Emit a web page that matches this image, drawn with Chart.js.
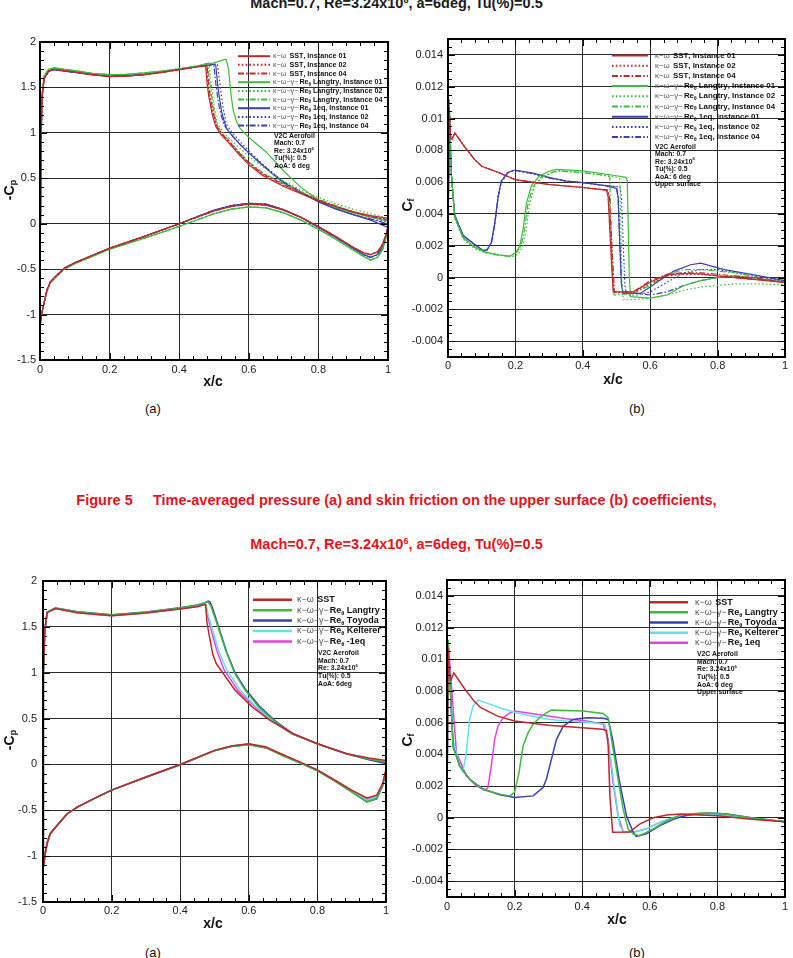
<!DOCTYPE html>
<html><head><meta charset="utf-8">
<script src="https://cdn.jsdelivr.net/npm/chart.js@4.4.1/dist/chart.umd.min.js"></script>
<style>
html,body{margin:0;padding:0;background:#fff;}
body{width:793px;height:958px;position:relative;overflow:hidden;font-family:"Liberation Sans",Arial,Helvetica,sans-serif;}
canvas{position:absolute;}
.t{position:absolute;left:0;width:793px;text-align:center;font-weight:bold;white-space:pre;}
.t sup{font-size:62%;vertical-align:0;position:relative;top:-0.55em;line-height:0;}
.lab{position:absolute;font-size:13px;color:#111;}
</style></head><body>
<div class="t" style="top:-5px;font-size:14.5px;color:#1a1a1a">Mach=0.7, Re=3.24x10<sup>6</sup>, a=6deg, Tu(%)=0.5</div>
<div class="lab" style="left:145px;top:401px">(a)</div>
<div class="lab" style="left:629px;top:401px">(b)</div>
<div class="t" style="top:492px;font-size:14.5px;color:#e3141b">Figure 5     Time-averaged pressure (a) and skin friction on the upper surface (b) coefficients,</div>
<div class="t" style="top:536px;font-size:14.5px;color:#e3141b">Mach=0.7, Re=3.24x10<sup>6</sup>, a=6deg, Tu(%)=0.5</div>
<div class="lab" style="left:145px;top:945px">(a)</div>
<div class="lab" style="left:629px;top:945px">(b)</div>
<canvas id="c1"></canvas><canvas id="c2"></canvas><canvas id="c3"></canvas><canvas id="c4"></canvas>
<script>
// ---------------- tick values / labels ----------------
const xTickVals=[0,0.2,0.4,0.6,0.8,1];
const xTickLabels=['0','0.2','0.4','0.6','0.8','1'];
const cpTickVals=[-1.5,-1,-0.5,0,0.5,1,1.5,2];
const cpTickLabels=['-1.5','-1','-0.5','0','0.5','1','1.5','2'];
const cfTickVals=[-0.004,-0.002,0,0.002,0.004,0.006,0.008,0.01,0.012,0.014];
const cfTickLabels=['-0.004','-0.002','0','0.002','0.004','0.006','0.008','0.01','0.012','0.014'];

// ---------------- legend labels ----------------
const labels5=['κ-ω SST, Instance 01','κ-ω SST, Instance 02','κ-ω SST, Instance 04',
 'κ-ω-γ-Re_θ Langtry, Instance 01','κ-ω-γ-Re_θ Langtry, Instance 02','κ-ω-γ-Re_θ Langtry, Instance 04',
 'κ-ω-γ-Re_θ 1eq, Instance 01','κ-ω-γ-Re_θ 1eq, Instance 02','κ-ω-γ-Re_θ 1eq, Instance 04'];
const labels6a=['κ-ω SST','κ-ω-γ-Re_θ Langtry','κ-ω-γ-Re_θ Toyoda','κ-ω-γ-Re_θ Kelterer','κ-ω-γ-Re_θ -1eq'];
const labels6b=['κ-ω SST','κ-ω-γ-Re_θ Langtry','κ-ω-γ-Re_θ Toyoda','κ-ω-γ-Re_θ Kelterer','κ-ω-γ-Re_θ 1eq'];
const annotA=['V2C Aerofoil','Mach: 0.7','Re: 3.24x10^6','Tu(%): 0.5','AoA: 6 deg'];
const annotB=['V2C Aerofoil','Mach: 0.7','Re: 3.24x10^6','Tu(%): 0.5','AoA: 6 deg','Upper surface'];
const annotC=['V2C Aerofoil','Mach: 0.7','Re: 3.24x10^6','Tu(%): 0.5','AoA: 6deg'];

// ---------------- Figure 5(a): -Cp ----------------
const cp5_lowerX=[0,0.003,0.006,0.01,0.02,0.03,0.045,0.07,0.1,0.15,0.2,0.3,0.4,0.5,0.55,0.6,0.65,0.7,0.75,0.8,0.85,0.9,0.93,0.95,0.97,0.985,0.995,1.0];
const cp5_lower_sst=[-1.12,-1.05,-0.97,-0.90,-0.73,-0.64,-0.58,-0.49,-0.43,-0.35,-0.27,-0.14,0.0,0.14,0.19,0.215,0.205,0.15,0.07,-0.03,-0.14,-0.26,-0.32,-0.34,-0.31,-0.22,-0.11,-0.03];
const cp5_lower_lan=[-1.12,-1.05,-0.97,-0.90,-0.74,-0.65,-0.59,-0.50,-0.44,-0.36,-0.28,-0.16,-0.03,0.11,0.16,0.185,0.175,0.12,0.04,-0.06,-0.17,-0.29,-0.36,-0.40,-0.37,-0.28,-0.15,-0.05];
const cp5_lower_eq=[-1.12,-1.05,-0.97,-0.90,-0.73,-0.64,-0.58,-0.49,-0.43,-0.35,-0.27,-0.14,0.0,0.15,0.20,0.225,0.215,0.155,0.07,-0.04,-0.15,-0.27,-0.34,-0.37,-0.34,-0.25,-0.13,-0.04];
const cp5_upX=[0,0.001,0.003,0.006,0.012,0.025,0.04,0.07,0.1,0.15,0.2,0.25,0.3,0.35,0.4,0.45];
const cp5_up_sst=[-1.12,-0.2,0.9,1.4,1.6,1.68,1.70,1.685,1.67,1.64,1.62,1.625,1.64,1.665,1.695,1.725];
const cp5_up_lan=[-1.12,-0.2,0.9,1.42,1.63,1.70,1.715,1.70,1.685,1.655,1.64,1.645,1.66,1.68,1.705,1.735];
const cp5_up_eq=[-1.12,-0.2,0.9,1.4,1.6,1.68,1.695,1.68,1.665,1.64,1.625,1.63,1.645,1.67,1.70,1.73];
const cp5_shX_sst01=[0.47,0.476,0.48,0.485,0.495,0.505,0.52,0.54,0.57,0.6,0.64,0.7,0.75,0.8,0.85,0.9,0.95,1.0];
const cp5_shY_sst01=[1.74,1.735,1.55,1.40,1.20,1.07,0.98,0.90,0.77,0.65,0.53,0.41,0.33,0.25,0.19,0.13,0.09,0.06];
const cp5_shX_sst02=[0.47,0.478,0.482,0.487,0.497,0.507,0.52,0.54,0.57,0.6,0.64,0.7,0.75,0.8,0.85,0.9,0.95,1.0];
const cp5_shY_sst02=[1.74,1.74,1.56,1.40,1.20,1.07,0.99,0.91,0.78,0.66,0.54,0.42,0.34,0.26,0.19,0.13,0.08,0.05];
const cp5_shX_sst04=[0.47,0.48,0.484,0.489,0.499,0.509,0.52,0.54,0.57,0.6,0.64,0.7,0.75,0.8,0.85,0.9,0.95,1.0];
const cp5_shY_sst04=[1.74,1.745,1.56,1.40,1.20,1.07,1.0,0.92,0.79,0.67,0.55,0.43,0.34,0.26,0.19,0.13,0.08,0.04];
const cp5_shX_lan01=[0.5,0.525,0.535,0.542,0.548,0.555,0.565,0.575,0.6,0.625,0.65,0.7,0.75,0.8,0.85,0.9,0.95,1.0];
const cp5_shY_lan01=[1.77,1.80,1.81,1.70,1.45,1.25,1.12,1.05,0.95,0.87,0.79,0.58,0.40,0.26,0.18,0.12,0.07,0.03];
const cp5_shX_lan02=[0.47,0.485,0.49,0.5,0.51,0.53,0.56,0.6,0.65,0.7,0.75,0.8,0.85,0.9,0.95,1.0];
const cp5_shY_lan02=[1.755,1.77,1.60,1.30,1.10,0.99,0.88,0.74,0.60,0.47,0.37,0.29,0.22,0.16,0.11,0.06];
const cp5_shX_lan04=[0.47,0.482,0.487,0.497,0.507,0.52,0.54,0.57,0.6,0.64,0.7,0.75,0.8,0.85,0.9,0.95,1.0];
const cp5_shY_lan04=[1.755,1.765,1.58,1.30,1.10,1.01,0.93,0.80,0.68,0.56,0.44,0.35,0.27,0.20,0.13,0.08,0.04];
const cp5_shX_eq01=[0.48,0.5,0.505,0.51,0.515,0.522,0.53,0.536,0.55,0.575,0.6,0.635,0.67,0.7,0.75,0.8,0.85,0.9,0.95,1.0];
const cp5_shY_eq01=[1.74,1.755,1.745,1.55,1.40,1.23,1.12,1.05,0.98,0.87,0.78,0.66,0.54,0.45,0.34,0.24,0.16,0.10,0.04,-0.04];
const cp5_shX_eq02=[0.48,0.505,0.51,0.515,0.525,0.535,0.55,0.6,0.65,0.7,0.75,0.8,0.85,0.9,0.95,1.0];
const cp5_shY_eq02=[1.74,1.76,1.75,1.6,1.3,1.1,1.01,0.80,0.62,0.46,0.35,0.25,0.17,0.10,0.05,0.02];
const cp5_shX_eq04=[0.48,0.495,0.5,0.505,0.512,0.52,0.53,0.545,0.57,0.6,0.63,0.67,0.7,0.75,0.8,0.85,0.9,0.95,1.0];
const cp5_shY_eq04=[1.74,1.75,1.74,1.55,1.35,1.20,1.08,1.0,0.89,0.78,0.68,0.55,0.46,0.35,0.25,0.17,0.10,0.05,0.0];

// ---------------- Figure 5(b): Cf ----------------
const cf5_x_sst01=[0,0.003,0.008,0.012,0.02,0.03,0.05,0.08,0.1,0.15,0.2,0.25,0.3,0.4,0.47,0.475,0.48,0.485,0.49,0.5,0.55,0.6,0.65,0.7,0.75,0.8,0.9,1.0];
const cf5_y_sst01=[0.0003,0.0107,0.0088,0.0087,0.0091,0.0088,0.0082,0.0074,0.0070,0.0066,0.00615,0.0060,0.00585,0.00566,0.0055,0.0051,0.0030,0.0010,-0.0009,-0.0009,-0.0009,-0.0003,0.00017,0.00025,0.00023,0.0001,-0.0001,-0.00033];
const cf5_x_sst02=[0,0.003,0.008,0.012,0.02,0.03,0.05,0.08,0.1,0.15,0.2,0.25,0.3,0.4,0.472,0.477,0.482,0.487,0.492,0.5,0.55,0.6,0.65,0.7,0.75,0.8,0.9,1.0];
const cf5_y_sst02=[0.0003,0.0107,0.0088,0.0087,0.0091,0.0088,0.0082,0.0074,0.0070,0.0066,0.00615,0.0060,0.00585,0.00566,0.0055,0.0051,0.0030,0.0010,-0.0009,-0.00095,-0.00095,-0.0004,0.0001,0.0002,0.0002,0.0001,-0.0001,-0.0003];
const cf5_x_sst04=[0,0.003,0.008,0.012,0.02,0.03,0.05,0.08,0.1,0.15,0.2,0.25,0.3,0.4,0.474,0.479,0.484,0.489,0.494,0.5,0.55,0.6,0.65,0.7,0.75,0.8,0.9,1.0];
const cf5_y_sst04=[0.0003,0.0107,0.0088,0.0087,0.0091,0.0088,0.0082,0.0074,0.0070,0.0066,0.00615,0.0060,0.00585,0.00566,0.0055,0.0051,0.0030,0.0010,-0.0009,-0.0009,-0.0009,-0.0002,0.0002,0.0003,0.0003,0.0002,0.0,-0.0003];
const cf5_x_lan01=[0,0.003,0.01,0.02,0.045,0.08,0.11,0.15,0.183,0.203,0.213,0.223,0.233,0.248,0.272,0.302,0.322,0.4,0.5,0.528,0.532,0.535,0.538,0.542,0.6,0.65,0.7,0.75,0.8,0.85,0.9,1.0];
const cf5_y_lan01=[0.0003,0.0112,0.0065,0.0038,0.0025,0.0019,0.0016,0.00142,0.00134,0.0016,0.0020,0.00305,0.0047,0.0058,0.0064,0.0067,0.0068,0.0067,0.0064,0.0063,0.0061,0.0030,0.0,-0.0012,-0.0013,-0.0011,-0.0005,-0.0002,0.0,0.0001,0.0,-0.0003];
const cf5_x_lan02=[0,0.003,0.01,0.02,0.045,0.08,0.11,0.15,0.19,0.21,0.222,0.232,0.242,0.256,0.28,0.31,0.33,0.4,0.5,0.51,0.513,0.516,0.52,0.55,0.6,0.65,0.7,0.75,0.8,0.85,0.9,1.0];
const cf5_y_lan02=[0.0003,0.0112,0.0064,0.0037,0.0024,0.0018,0.00155,0.0014,0.0013,0.0015,0.0020,0.0030,0.0046,0.0057,0.0063,0.0066,0.0067,0.0066,0.0063,0.0062,0.0030,0.0,-0.0014,-0.0014,-0.0013,-0.0011,-0.0008,-0.0006,-0.0005,-0.0004,-0.0004,-0.00045];
const cf5_x_lan04=[0,0.003,0.01,0.02,0.045,0.08,0.11,0.15,0.185,0.205,0.217,0.227,0.237,0.252,0.276,0.306,0.326,0.4,0.475,0.48,0.484,0.488,0.493,0.55,0.6,0.65,0.7,0.75,0.8,0.85,0.9,1.0];
const cf5_y_lan04=[0.0003,0.0112,0.0065,0.0038,0.0025,0.0019,0.0016,0.0014,0.00133,0.0016,0.0020,0.0030,0.0046,0.0057,0.0063,0.0066,0.0067,0.0066,0.0064,0.0063,0.0030,0.0,-0.0011,-0.0010,-0.0005,0.0002,0.0005,0.0005,0.0004,0.0003,0.0001,-0.0003];
const cf5_x_eq01=[0,0.003,0.01,0.02,0.045,0.084,0.104,0.115,0.129,0.139,0.149,0.158,0.178,0.198,0.252,0.302,0.351,0.401,0.46,0.5,0.505,0.51,0.515,0.52,0.55,0.57,0.6,0.62,0.67,0.72,0.75,0.82,0.9,1.0];
const cf5_y_eq01=[0.0003,0.0112,0.0065,0.0039,0.00264,0.0020,0.0017,0.0017,0.00222,0.00347,0.00513,0.00607,0.0066,0.00676,0.00656,0.00628,0.00607,0.00597,0.0058,0.0056,0.0050,0.0020,-0.0005,-0.0010,-0.0010,-0.0010,-0.0006,-0.0003,0.0004,0.0008,0.0009,0.0005,0.0002,-0.0002];
const cf5_x_eq02=[0,0.003,0.01,0.02,0.045,0.084,0.104,0.115,0.129,0.139,0.149,0.158,0.178,0.198,0.252,0.302,0.351,0.401,0.46,0.51,0.515,0.52,0.525,0.53,0.56,0.6,0.65,0.7,0.75,0.8,0.85,0.9,1.0];
const cf5_y_eq02=[0.0003,0.0112,0.0065,0.0039,0.00264,0.0020,0.0017,0.0017,0.0022,0.0034,0.0051,0.0060,0.0066,0.00672,0.00652,0.00625,0.00605,0.00595,0.0058,0.0057,0.0050,0.0020,-0.0005,-0.0011,-0.0011,-0.0009,-0.0003,0.0003,0.0005,0.0005,0.0003,0.0001,-0.0002];
const cf5_x_eq04=[0,0.003,0.01,0.02,0.045,0.084,0.104,0.115,0.129,0.139,0.149,0.158,0.178,0.198,0.252,0.302,0.351,0.401,0.46,0.5,0.505,0.51,0.515,0.52,0.56,0.6,0.65,0.7,0.75,0.8,0.85,0.9,1.0];
const cf5_y_eq04=[0.0003,0.0112,0.0065,0.0039,0.00264,0.0020,0.0017,0.0017,0.0022,0.0034,0.0051,0.0060,0.0066,0.00674,0.00654,0.00626,0.00606,0.00596,0.0058,0.0057,0.0050,0.0020,-0.0005,-0.0010,-0.0010,-0.0011,-0.0009,-0.0005,-0.0002,0.0,0.0,-0.0001,-0.0002];

// ---------------- Figure 6(a): -Cp ----------------
const cp6_lowerX=[0,0.002,0.006,0.012,0.021,0.041,0.07,0.1,0.15,0.2,0.3,0.4,0.5,0.55,0.6,0.65,0.7,0.75,0.8,0.85,0.9,0.944,0.973,0.99,1.0];
const cp6_lower_sst=[-1.12,-1.10,-0.98,-0.86,-0.755,-0.665,-0.54,-0.465,-0.37,-0.28,-0.137,0.0,0.153,0.20,0.225,0.19,0.105,0.025,-0.06,-0.17,-0.28,-0.365,-0.335,-0.21,-0.06];
const cp6_lower_lan=[-1.12,-1.10,-0.98,-0.86,-0.755,-0.665,-0.54,-0.465,-0.37,-0.28,-0.14,-0.005,0.148,0.195,0.215,0.18,0.095,0.015,-0.07,-0.18,-0.30,-0.405,-0.37,-0.23,-0.07];
const cp6_lower_toy=[-1.12,-1.10,-0.98,-0.86,-0.755,-0.665,-0.54,-0.465,-0.37,-0.28,-0.14,-0.003,0.15,0.197,0.218,0.183,0.098,0.018,-0.068,-0.18,-0.30,-0.41,-0.375,-0.235,-0.07];
const cp6_lower_kel=[-1.12,-1.10,-0.98,-0.86,-0.755,-0.665,-0.54,-0.465,-0.37,-0.28,-0.138,0.0,0.152,0.2,0.222,0.187,0.1,0.02,-0.065,-0.175,-0.29,-0.39,-0.355,-0.22,-0.065];
const cp6_lower_one=[-1.12,-1.10,-0.98,-0.86,-0.755,-0.665,-0.54,-0.465,-0.37,-0.28,-0.137,0.0,0.153,0.2,0.223,0.188,0.102,0.022,-0.063,-0.172,-0.285,-0.38,-0.35,-0.215,-0.06];
const cp6_upX=[0,0.001,0.002,0.005,0.012,0.036,0.1,0.2,0.3,0.4,0.45];
const cp6_up_sst=[-1.12,0.0,1.0,1.45,1.655,1.70,1.655,1.62,1.65,1.695,1.72];
const cp6_up_lan=[-1.12,0.0,1.0,1.45,1.66,1.705,1.665,1.63,1.66,1.705,1.735];
const cp6_up_toy=[-1.12,0.0,1.0,1.45,1.66,1.705,1.665,1.632,1.662,1.708,1.738];
const cp6_up_kel=[-1.12,0.0,1.0,1.45,1.66,1.705,1.66,1.626,1.655,1.70,1.728];
const cp6_up_one=[-1.12,0.0,1.0,1.45,1.655,1.70,1.655,1.62,1.65,1.697,1.725];
const cp6_shX_sst=[0.47,0.474,0.478,0.485,0.495,0.505,0.524,0.56,0.609,0.662,0.73,0.80,0.885,0.95,1.0];
const cp6_shY_sst=[1.74,1.74,1.55,1.40,1.20,1.10,1.0,0.81,0.63,0.48,0.335,0.226,0.117,0.07,0.044];
const cp6_shX_lan=[0.47,0.48,0.49,0.507,0.533,0.558,0.589,0.628,0.672,0.725,0.80,0.885,0.95,1.0];
const cp6_shY_lan=[1.76,1.775,1.72,1.535,1.24,1.0,0.81,0.63,0.48,0.335,0.226,0.117,0.06,0.026];
const cp6_shX_toy=[0.47,0.482,0.487,0.495,0.51,0.536,0.56,0.59,0.63,0.675,0.73,0.80,0.885,0.95,1.0];
const cp6_shY_toy=[1.76,1.78,1.77,1.70,1.52,1.22,1.0,0.82,0.64,0.48,0.33,0.225,0.115,0.05,0.01];
const cp6_shX_kel=[0.47,0.475,0.482,0.492,0.512,0.536,0.575,0.618,0.665,0.725,0.80,0.885,0.95,1.0];
const cp6_shY_kel=[1.75,1.745,1.62,1.50,1.24,1.03,0.81,0.64,0.49,0.34,0.226,0.117,0.06,0.03];
const cp6_shX_one=[0.47,0.475,0.48,0.488,0.507,0.528,0.57,0.615,0.665,0.725,0.80,0.885,0.95,1.0];
const cp6_shY_one=[1.745,1.74,1.62,1.50,1.24,1.03,0.80,0.64,0.48,0.335,0.226,0.117,0.06,0.02];

// ---------------- Figure 6(b): Cf ----------------
const cf6_x_sst=[0,0.003,0.008,0.012,0.02,0.05,0.08,0.1,0.15,0.2,0.3,0.4,0.46,0.472,0.477,0.482,0.49,0.54,0.57,0.61,0.65,0.69,0.8,0.9,1.0];
const cf6_y_sst=[0.0003,0.0107,0.0088,0.0087,0.00914,0.0082,0.00736,0.00694,0.00641,0.0061,0.00583,0.00568,0.00558,0.0055,0.0045,0.00138,-0.00092,-0.0009,-0.0004,0.0,0.00017,0.00023,0.00013,-0.0001,-0.00025];
const cf6_x_lan=[0,0.003,0.018,0.0375,0.067,0.107,0.156,0.186,0.2,0.213,0.225,0.24,0.255,0.274,0.294,0.309,0.403,0.462,0.477,0.49,0.506,0.521,0.536,0.551,0.57,0.61,0.65,0.69,0.75,0.81,0.9,1.0];
const cf6_y_lan=[0.0003,0.0112,0.0045,0.00327,0.00243,0.0018,0.00149,0.00138,0.0016,0.00285,0.00453,0.00537,0.0059,0.00631,0.00662,0.00679,0.00673,0.00658,0.0063,0.0045,0.00243,0.00054,-0.00071,-0.00103,-0.00113,-0.0007,-0.00019,0.00017,0.0003,0.00027,0.0,-0.00025];
const cf6_x_toy=[0,0.003,0.018,0.0375,0.067,0.107,0.156,0.2,0.255,0.284,0.294,0.309,0.324,0.344,0.373,0.413,0.462,0.477,0.49,0.511,0.531,0.551,0.56,0.59,0.63,0.67,0.71,0.77,0.83,0.9,1.0];
const cf6_y_toy=[0.0003,0.0112,0.0045,0.00327,0.00243,0.0018,0.00145,0.00128,0.00138,0.0019,0.00243,0.0037,0.00495,0.00578,0.0062,0.00631,0.00627,0.0062,0.00495,0.00222,0.00012,-0.00092,-0.00117,-0.00102,-0.0005,-0.0001,0.00017,0.0003,0.00023,0.0,-0.00025];
const cf6_x_kel=[0,0.003,0.018,0.0375,0.047,0.057,0.067,0.077,0.092,0.116,0.156,0.205,0.255,0.304,0.353,0.403,0.452,0.467,0.482,0.497,0.511,0.526,0.551,0.59,0.63,0.67,0.73,0.81,0.9,1.0];
const cf6_y_kel=[0.0003,0.0112,0.0049,0.00327,0.0029,0.00411,0.0062,0.00704,0.00742,0.00725,0.00694,0.00662,0.0064,0.0062,0.0061,0.00604,0.00595,0.0059,0.0041,0.0016,-0.0005,-0.00092,-0.00092,-0.0007,-0.00029,0.00002,0.00023,0.0002,-0.00004,-0.00025];
const cf6_x_one=[0,0.003,0.028,0.057,0.087,0.111,0.121,0.131,0.141,0.151,0.166,0.186,0.2,0.255,0.304,0.353,0.413,0.462,0.477,0.49,0.506,0.521,0.551,0.59,0.63,0.67,0.73,0.81,0.9,1.0];
const cf6_y_one=[0.0003,0.0112,0.0041,0.00264,0.00201,0.00174,0.0019,0.00327,0.00495,0.00578,0.00631,0.00662,0.00673,0.00656,0.0064,0.00625,0.0061,0.0059,0.00495,0.00243,0.00013,-0.00088,-0.00092,-0.0007,-0.00029,0.0,0.0002,0.0002,-0.00004,-0.00025];

// ---------------- helpers ----------------
const F='"Liberation Sans", Arial, sans-serif';
const RED='#c1272d', GRN='#3dbb3d', BLU='#3b3fb2', CYA='#5fe4ec', MAG='#e044e0';
const SOLID=[], DOT=[1.6,2.2], DASHDOT=[6,2,1.6,2];
function pts(xs,ys){const n=Math.min(xs.length,ys.length);const o=[];for(let i=0;i<n;i++)o.push({x:xs[i],y:ys[i]});return o;}
function loop(loX,loY,upX,upY,shX,shY){
  const lo=pts(loX,loY).reverse();
  const up=pts(upX,upY).slice(1);
  return lo.concat(up, pts(shX,shY));
}
function ds(label,color,dash,data,w){return {label,data,borderColor:color,backgroundColor:color,borderDash:dash,borderWidth:w,pointRadius:0,showLine:true,fill:false,tension:0};}

function rich(ctx,str,x,y,size,color){
  let pre='', rest=str;
  const m=str.match(/^([κωγ\-\s]+)(.*)$/u);
  if(m && /[κωγ]/.test(m[1])){pre=m[1];rest=m[2];}
  ctx.textBaseline='middle'; ctx.textAlign='left'; ctx.fillStyle=color;
  let cx=x;
  if(pre){ctx.font=`${size}px ${F}`; ctx.fillStyle='#555'; const p=pre.replace(/-/g,'−'); ctx.fillText(p,cx,y); cx+=ctx.measureText(p).width+1; ctx.fillStyle=color;}
  for(let i=0;i<rest.length;i++){
    const c=rest[i];
    if((c==='_'||c==='^')&&i+1<rest.length){
      const s=rest[i+1]; i++;
      ctx.font=`bold ${size*0.62}px ${F}`;
      ctx.fillText(s,cx,y+(c==='_'?size*0.32:-size*0.38));
      cx+=ctx.measureText(s).width;
    } else {
      ctx.font=`bold ${size}px ${F}`;
      ctx.fillText(c,cx,y); cx+=ctx.measureText(c).width;
    }
  }
}

const decoPlugin={
  id:'deco',
  afterDatasetsDraw(chart,args,o){
    const ctx=chart.ctx, a=chart.chartArea, xs=chart.scales.x, ys=chart.scales.y;
    ctx.save(); ctx.strokeStyle='#000'; ctx.lineWidth=1;
    const seg=(x1,y1,x2,y2)=>{ctx.beginPath();ctx.moveTo(x1,y1);ctx.lineTo(x2,y2);ctx.stroke();};
    const nx=Math.round((xs.max-xs.min)/o.xMinor);
    for(let i=0;i<=nx;i++){const v=xs.min+i*o.xMinor; const p=Math.round(xs.getPixelForValue(v))+0.5; const maj=Math.abs(v/0.2-Math.round(v/0.2))<1e-6; const L=maj?7:4; seg(p,a.bottom,p,a.bottom-L); seg(p,a.top,p,a.top+L);}
    const ny=Math.round((ys.max-ys.min)/o.yMinor);
    for(let i=0;i<=ny;i++){const v=ys.min+i*o.yMinor; const p=Math.round(ys.getPixelForValue(v))+0.5; const q=v/o.yMajor; const maj=Math.abs(q-Math.round(q))<1e-6; const L=maj?7:4; seg(a.left,p,a.left+L,p); seg(a.right,p,a.right-L,p);}
    ctx.lineWidth=2; ctx.strokeRect(a.left,a.top,a.right-a.left,a.bottom-a.top);
    ctx.restore();
  },
  afterDraw(chart,args,o){
    const ctx=chart.ctx, bx=o.box.l, by=o.box.t;
    ctx.save();
    const L=o.legend;
    chart.data.datasets.forEach((d,i)=>{
      const y=L.y0+i*L.dy-by+0.5;
      ctx.strokeStyle=d.borderColor; ctx.lineWidth=L.lw; ctx.setLineDash(d.borderDash||[]);
      ctx.beginPath(); ctx.moveTo(L.x0-bx,y); ctx.lineTo(L.x1-bx,y); ctx.stroke();
      ctx.setLineDash([]);
      rich(ctx,d.label,L.tx-bx,y,L.size,'#111');
    });
    const A=o.annot;
    A.lines.forEach((s,i)=>rich(ctx,s,A.x-bx,A.y0+i*A.dy-by,A.size,'#111'));
    ctx.fillStyle='#111'; ctx.textAlign='center'; ctx.textBaseline='middle';
    ctx.font=`bold 14px ${F}`;
    ctx.fillText('x/c',o.xt.x-bx,o.xt.y-by);
    ctx.translate(o.yt.x-bx,o.yt.y-by); ctx.rotate(-Math.PI/2);
    ctx.font=`bold 14px ${F}`; const w1=ctx.measureText(o.yt.main).width;
    ctx.font=`bold 9px ${F}`; const w2=ctx.measureText(o.yt.sub).width;
    const x0=-(w1+w2)/2;
    ctx.textAlign='left';
    ctx.font=`bold 14px ${F}`; ctx.fillText(o.yt.main,x0,0);
    ctx.font=`bold 9px ${F}`; ctx.fillText(o.yt.sub,x0+w1,4);
    ctx.restore();
  }
};

function make(id,box,area,yMin,yMax,yVals,yLabels,yPad,xPad,datasets,deco){
  const cv=document.getElementById(id);
  cv.width=box.w; cv.height=box.h; cv.style.left=box.l+'px'; cv.style.top=box.t+'px';
  cv.style.width=box.w+'px'; cv.style.height=box.h+'px';
  deco.box=box;
  new Chart(cv,{type:'scatter',data:{datasets},options:{
    responsive:false,animation:false,devicePixelRatio:1,
    layout:{padding:{left:0,top:area.t-box.t,right:box.l+box.w-area.r,bottom:0}},
    plugins:{legend:{display:false},tooltip:{enabled:false},deco},
    scales:{
      x:{type:'linear',min:0,max:1,
        afterBuildTicks:s=>{s.ticks=xTickVals.map(v=>({value:v}));},
        afterFit:s=>{s.height=box.t+box.h-area.b;},
        ticks:{callback:(v,i)=>xTickLabels[i],font:{size:11,family:F},color:'#222',padding:xPad,maxRotation:0,autoSkip:false},
        grid:{color:'#2a2a2a',lineWidth:1,drawTicks:false},border:{display:false}},
      y:{type:'linear',min:yMin,max:yMax,
        afterBuildTicks:s=>{s.ticks=yVals.map(v=>({value:v}));},
        afterFit:s=>{s.width=area.l-box.l;},
        ticks:{callback:(v,i)=>yLabels[i],font:{size:11,family:F},color:'#222',padding:yPad,autoSkip:false},
        grid:{color:'#2a2a2a',lineWidth:1,drawTicks:false},border:{display:false}}
    }},plugins:[decoPlugin]});
}

const w5=1.2;
make('c1',{l:0,t:28,w:400,h:367},{l:40,t:42,r:388,b:360},-1.5,2,cpTickVals,cpTickLabels,4,3,[
  ds(labels5[0],RED,SOLID,loop(cp5_lowerX,cp5_lower_sst,cp5_upX,cp5_up_sst,cp5_shX_sst01,cp5_shY_sst01),w5),
  ds(labels5[1],RED,DOT,loop(cp5_lowerX,cp5_lower_sst,cp5_upX,cp5_up_sst,cp5_shX_sst02,cp5_shY_sst02),w5),
  ds(labels5[2],RED,DASHDOT,loop(cp5_lowerX,cp5_lower_sst,cp5_upX,cp5_up_sst,cp5_shX_sst04,cp5_shY_sst04),w5),
  ds(labels5[3],GRN,SOLID,loop(cp5_lowerX,cp5_lower_lan,cp5_upX,cp5_up_lan,cp5_shX_lan01,cp5_shY_lan01),w5),
  ds(labels5[4],GRN,DOT,loop(cp5_lowerX,cp5_lower_lan,cp5_upX,cp5_up_lan,cp5_shX_lan02,cp5_shY_lan02),w5),
  ds(labels5[5],GRN,DASHDOT,loop(cp5_lowerX,cp5_lower_lan,cp5_upX,cp5_up_lan,cp5_shX_lan04,cp5_shY_lan04),w5),
  ds(labels5[6],BLU,SOLID,loop(cp5_lowerX,cp5_lower_eq,cp5_upX,cp5_up_eq,cp5_shX_eq01,cp5_shY_eq01),w5),
  ds(labels5[7],BLU,DOT,loop(cp5_lowerX,cp5_lower_eq,cp5_upX,cp5_up_eq,cp5_shX_eq02,cp5_shY_eq02),w5),
  ds(labels5[8],BLU,DASHDOT,loop(cp5_lowerX,cp5_lower_eq,cp5_upX,cp5_up_eq,cp5_shX_eq04,cp5_shY_eq04),w5)
],{xMinor:0.04,yMinor:0.1,yMajor:0.5,
   legend:{x0:238,x1:270,tx:273,y0:55.7,dy:8.67,size:7.2,lw:2},
   annot:{x:274,y0:136,dy:7.5,size:6.8,lines:annotA},
   xt:{x:213,y:382},yt:{x:10,y:190,main:'-C',sub:'p'}});

make('c2',{l:400,t:25,w:393,h:370},{l:448,t:39,r:785,b:357},-0.005,0.015,cfTickVals,cfTickLabels,5,2,[
  ds(labels5[0],RED,SOLID,pts(cf5_x_sst01,cf5_y_sst01),w5),
  ds(labels5[1],RED,DOT,pts(cf5_x_sst02,cf5_y_sst02),w5),
  ds(labels5[2],RED,DASHDOT,pts(cf5_x_sst04,cf5_y_sst04),w5),
  ds(labels5[3],GRN,SOLID,pts(cf5_x_lan01,cf5_y_lan01),w5),
  ds(labels5[4],GRN,DOT,pts(cf5_x_lan02,cf5_y_lan02),w5),
  ds(labels5[5],GRN,DASHDOT,pts(cf5_x_lan04,cf5_y_lan04),w5),
  ds(labels5[6],BLU,SOLID,pts(cf5_x_eq01,cf5_y_eq01),w5),
  ds(labels5[7],BLU,DOT,pts(cf5_x_eq02,cf5_y_eq02),w5),
  ds(labels5[8],BLU,DASHDOT,pts(cf5_x_eq04,cf5_y_eq04),w5)
],{xMinor:0.04,yMinor:0.0005,yMajor:0.002,
   legend:{x0:612,x1:648,tx:655,y0:55,dy:10.2,size:7.9,lw:2},
   annot:{x:655,y0:146.7,dy:7.5,size:6.8,lines:annotB},
   xt:{x:613,y:380},yt:{x:408,y:205,main:'C',sub:'f'}});

const w6=1.5;
make('c3',{l:0,t:566,w:400,h:370},{l:43,t:581,r:386,b:902},-1.5,2,cpTickVals,cpTickLabels,6,2,[
  ds(labels6a[0],RED,SOLID,loop(cp6_lowerX,cp6_lower_sst,cp6_upX,cp6_up_sst,cp6_shX_sst,cp6_shY_sst),w6),
  ds(labels6a[1],GRN,SOLID,loop(cp6_lowerX,cp6_lower_lan,cp6_upX,cp6_up_lan,cp6_shX_lan,cp6_shY_lan),w6),
  ds(labels6a[2],BLU,SOLID,loop(cp6_lowerX,cp6_lower_toy,cp6_upX,cp6_up_toy,cp6_shX_toy,cp6_shY_toy),w6),
  ds(labels6a[3],CYA,SOLID,loop(cp6_lowerX,cp6_lower_kel,cp6_upX,cp6_up_kel,cp6_shX_kel,cp6_shY_kel),w6),
  ds(labels6a[4],MAG,SOLID,loop(cp6_lowerX,cp6_lower_one,cp6_upX,cp6_up_one,cp6_shX_one,cp6_shY_one),w6)
],{xMinor:0.04,yMinor:0.1,yMajor:0.5,
   legend:{x0:253,x1:292,tx:297,y0:599.3,dy:10.4,size:9,lw:2.5},
   annot:{x:318,y0:653.3,dy:7.6,size:6.8,lines:annotC},
   xt:{x:213,y:924},yt:{x:10,y:740,main:'-C',sub:'p'}});

make('c4',{l:400,t:566,w:393,h:370},{l:447,t:580,r:785,b:897},-0.005,0.015,cfTickVals,cfTickLabels,4,3,[
  ds(labels6b[0],RED,SOLID,pts(cf6_x_sst,cf6_y_sst),w6),
  ds(labels6b[1],GRN,SOLID,pts(cf6_x_lan,cf6_y_lan),w6),
  ds(labels6b[2],BLU,SOLID,pts(cf6_x_toy,cf6_y_toy),w6),
  ds(labels6b[3],CYA,SOLID,pts(cf6_x_kel,cf6_y_kel),w6),
  ds(labels6b[4],MAG,SOLID,pts(cf6_x_one,cf6_y_one),w6)
],{xMinor:0.04,yMinor:0.0005,yMajor:0.002,
   legend:{x0:650,x1:688,tx:695,y0:601.7,dy:10.15,size:9,lw:2.5},
   annot:{x:697,y0:654,dy:7.7,size:6.8,lines:annotB},
   xt:{x:617,y:920},yt:{x:408,y:740,main:'C',sub:'f'}});
</script>
</body></html>
